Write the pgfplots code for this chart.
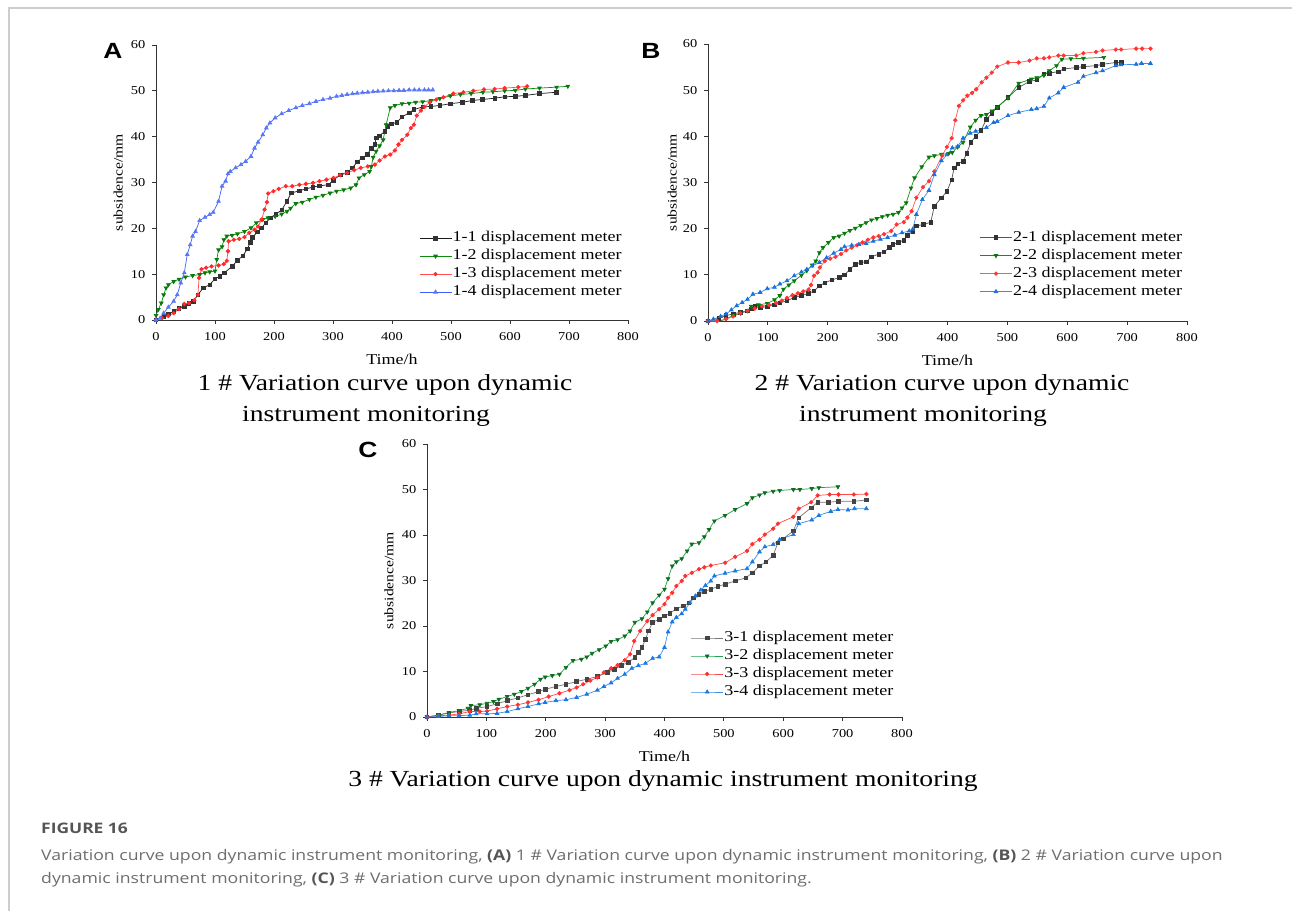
\documentclass[border=0pt]{standalone}
\usepackage{pgfplots}
\pgfplotsset{compat=1.18}
\usepackage{fontspec}
\setmainfont[FakeStretch=1.2]{Liberation Serif}
\newfontfamily\sansb[FakeStretch=1.2]{Liberation Sans}
\newfontfamily\capfont[FakeStretch=1.2]{Open Sans}
\definecolor{axisgray}{HTML}{333333}
\definecolor{Ak}{HTML}{1A1A1A}\definecolor{Akm}{HTML}{333333}
\definecolor{Ag}{HTML}{118A11}\definecolor{Agm}{HTML}{0A7A0A}
\definecolor{Ar}{HTML}{FF5050}\definecolor{Arm}{HTML}{FF2A2A}
\definecolor{Ab}{HTML}{4060FF}\definecolor{Abm}{HTML}{5A78F5}
\definecolor{Bk}{HTML}{555555}\definecolor{Bkm}{HTML}{333333}
\definecolor{Bg}{HTML}{129012}\definecolor{Bgm}{HTML}{0A780A}
\definecolor{Br}{HTML}{FF5A5A}\definecolor{Brm}{HTML}{FF3535}
\definecolor{Bb}{HTML}{3A8EEA}\definecolor{Bbm}{HTML}{1870DA}
\definecolor{Ck}{HTML}{777777}\definecolor{Ckm}{HTML}{444444}
\definecolor{Cg}{HTML}{20A050}\definecolor{Cgm}{HTML}{0E6E1E}
\definecolor{Cr}{HTML}{FF4A4A}\definecolor{Crm}{HTML}{FF3030}
\definecolor{Cb}{HTML}{3A8EEA}\definecolor{Cbm}{HTML}{1A78E0}
\definecolor{capc}{HTML}{6E6E6E}\definecolor{caph}{HTML}{555555}
\pgfplotsset{
 panel/.style={
  scale only axis, xmin=0,xmax=800,ymin=0,ymax=60,
  axis x line*=bottom, axis y line*=left,
  axis line style={draw=axisgray, line width=0.9pt, -},
  xtick={0,100,...,800}, ytick={0,10,...,60},
  tick align=outside, major tick length=4pt,
  tick style={draw=axisgray, line width=0.8pt},
  tick label style={font=\fontsize{12}{14}\selectfont},
  xticklabel style={inner sep=3pt, yshift=-5pt},
  yticklabel style={inner sep=3pt, xshift=-3.5pt},
  /pgf/number format/assume math mode=true,
  xlabel={Time/h}, ylabel={subsidence/mm},
  xlabel style={font=\fontsize{15}{17}\selectfont, at={(axis description cs:0.5,0)}, anchor=center, yshift=-39pt},
  ylabel style={font=\fontsize{13}{15}\selectfont, at={(axis description cs:-0.08,0.5)}, anchor=center},
  legend cell align=left,
  legend style={draw=none, fill=none, font=\fontsize{15}{17}\selectfont,
    anchor=south east, row sep=2.4pt,
    nodes={inner sep=0.8pt, text height=10.5pt, text depth=3.5pt}},
  legend image code/.code={\draw[mark repeat=2,mark phase=2,##1] plot coordinates {(0pt,0pt) (16pt,0pt) (32pt,0pt)};},
 },
 ser/.style n args={3}{draw=#1, line width=0.7pt, mark=#3, mark size=1.8pt, mark options={solid, draw=#2, fill=#2}},
 dser/.style n args={2}{draw=#1, line width=0.7pt, mark=triangle*, mark size=2.1pt, mark options={solid, draw=#2, fill=#2, rotate=180}},
}
\begin{document}
\begin{tikzpicture}
\path[use as bounding box] (0pt,0pt) rectangle (1292pt,-911pt);
\fill[white] (0pt,0pt) rectangle (1292pt,-911pt);
\draw[color={rgb,255:red,205;green,205;blue,205}, line width=1.5pt] (9pt,-911pt) -- (9pt,-8pt) -- (1292pt,-8pt);

% Panel A
\begin{axis}[panel, at={(156pt,-320pt)}, anchor=south west, width=472pt, height=275pt,
  legend style={at={(0.995,0.065)}}]
\addplot[ser={Ak}{Akm}{square*}] coordinates {(0,0)(13,0.8)(21,1.3)(30,1.9)(39,2.5)(48,3)(56,3.6)(63,4.1)(71,5.5)(80,7)(91,7.7)(100,9)(108,9.5)(116,10.3)(129,11.7)(138,13)(147,14)(155,15.5)(160,17)(163,18)(172,19.2)(179,20.1)(186,21.2)(194,22.3)(203,23.1)(213,24)(222,25.9)(229,27.7)(243,28.2)(254,28.6)(266,29)(277,29.3)(292,29.5)(301,30.5)(312,31.7)(324,32.2)(333,33.2)(341,34.5)(350,35.4)(358,36.1)(365,37.5)(371,38.3)(373,39.7)(379,40.2)(388,41.2)(393,42.3)(399,42.8)(408,43.1)(417,44.3)(429,45.2)(437,45.9)(452,46.5)(466,46.6)(481,46.8)(499,47.2)(519,47.5)(536,47.9)(553,48.1)(574,48.4)(591,48.7)(609,48.8)(626,49)(650,49.4)(679,49.7)};
\addlegendentry{1-1 displacement meter}
\addplot[dser={Ag}{Agm}] coordinates {(0,1)(4,2.3)(9,3.7)(13,5.5)(17,7)(21,7.7)(30,8.4)(39,8.9)(50,9.4)(62,9.7)(74,9.9)(83,10.3)(91,10.5)(100,10.7)(103,13.2)(106,15.3)(112,16)(115,17.5)(120,18.3)(129,18.5)(138,18.8)(150,19.3)(161,20.1)(170,21.2)(181,21.9)(190,22.3)(202,22.6)(213,23.1)(222,23.7)(228,24.4)(237,25.4)(248,25.7)(260,26.3)(271,26.8)(283,27.2)(295,27.7)(306,28.1)(318,28.4)(330,28.8)(339,29.5)(344,31)(353,31.7)(362,32.4)(365,33.5)(368,35.5)(373,36.8)(379,38)(385,39.3)(390,42.6)(397,46.3)(405,46.8)(417,47.2)(429,47.3)(440,47.5)(452,47.6)(466,47.9)(481,48.3)(499,48.9)(516,49.2)(534,49.4)(554,49.7)(571,49.8)(591,50)(609,50.1)(626,50.4)(650,50.6)(679,50.8)(698,51)};
\addlegendentry{1-2 displacement meter}
\addplot[ser={Ar}{Arm}{*}] coordinates {(0,0)(10,0.4)(21,0.9)(30,1.5)(39,2.4)(48,3.5)(56,3.7)(65,4.3)(71,5.5)(73,9.2)(77,11.1)(85,11.4)(94,11.7)(106,11.9)(115,12.2)(120,12.9)(122,15)(123,17.2)(132,17.5)(141,17.7)(150,18.1)(158,19)(167,19.7)(173,20.4)(179,21.9)(184,24.1)(188,25.7)(190,27.6)(199,28.1)(208,28.6)(220,29.2)(231,29.2)(243,29.5)(254,29.7)(266,29.9)(277,30.3)(289,30.6)(301,31)(312,31.6)(324,32.1)(336,32.7)(347,33.2)(359,33.5)(371,33.9)(379,34.8)(388,35.7)(397,36.1)(405,37)(411,38.3)(417,39.3)(426,40.4)(432,41.9)(437,42.6)(442,44.6)(449,45.7)(455,46.5)(464,47.5)(475,48.1)(487,48.6)(504,49.4)(521,49.7)(538,50)(556,50.3)(574,50.4)(591,50.6)(614,50.8)(629,51)};
\addlegendentry{1-3 displacement meter}
\addplot[ser={Ab}{Abm}{triangle*}, mark size=2.1pt] coordinates {(0,0)(7,0.4)(13,1.5)(21,2.8)(30,4.1)(36,5.5)(42,8.1)(48,10.3)(53,14.3)(58,16.4)(62,18.3)(67,19.3)(74,21.7)(83,22.4)(91,23)(97,23.5)(106,25.9)(112,29.2)(118,30.3)(122,31.9)(126,32.4)(135,33.2)(144,33.9)(152,34.6)(161,35.7)(167,37.5)(173,38.8)(181,40.4)(187,41.9)(193,43)(202,44.1)(213,45)(225,45.7)(237,46.3)(248,46.8)(260,47.2)(271,47.7)(283,48.1)(295,48.4)(306,48.8)(315,49)(324,49.2)(333,49.35)(341,49.5)(350,49.6)(359,49.7)(368,49.8)(376,49.9)(385,49.95)(394,50)(403,50)(412,50.1)(420,50.1)(429,50.2)(438,50.2)(446,50.2)(455,50.2)(462,50.2)(469,50.2)};
\addlegendentry{1-4 displacement meter}
\end{axis}

% Panel B
\begin{axis}[panel, at={(708pt,-321pt)}, anchor=south west, width=479pt, height=277pt,
  ylabel style={at={(axis description cs:-0.075,0.5)}},
  legend style={at={(0.998,0.07)}}]
\addplot[ser={Bk}{Bkm}{square*}] coordinates {(0,0)(18,0.6)(30,1.2)(42,1.5)(54,1.9)(66,2.2)(72,2.6)(78,3.2)(87,2.9)(99,3.1)(111,3.5)(120,3.9)(132,4.4)(144,5.1)(156,5.5)(168,6)(177,6.5)(186,7.6)(195,8.3)(207,8.9)(219,9.4)(228,10)(237,11.2)(246,12.3)(255,12.7)(264,12.8)(273,13.9)(285,14.5)(294,15)(303,15.9)(309,16.6)(318,17)(327,17.5)(333,18.6)(342,19.4)(348,20.6)(360,20.9)(372,21.4)(378,24.9)(390,26.7)(399,28.1)(407,30.6)(411,33.2)(417,34)(426,34.6)(432,36.3)(439,38.7)(447,40)(456,41.3)(465,43.7)(474,45)(483,46.3)(501,48.4)(519,50.6)(537,51.9)(549,52.2)(561,53.5)(570,53.7)(585,54)(594,54.6)(615,54.9)(627,55.1)(648,55.3)(659,55.6)(681,56)(690,56)};
\addlegendentry{2-1 displacement meter}
\addplot[dser={Bg}{Bgm}] coordinates {(0,0)(18,-0.1)(30,0.4)(42,1.2)(54,1.7)(66,2.2)(72,3.2)(84,3.5)(99,3.8)(111,4.6)(120,5.5)(126,6.9)(135,7.8)(144,8.7)(156,9.9)(165,10.9)(174,12.1)(180,13)(186,14.8)(192,15.9)(201,17)(210,18.1)(219,18.4)(228,19)(237,19.6)(246,20.1)(255,20.7)(264,21.3)(273,21.9)(282,22.2)(291,22.6)(300,22.9)(309,23.1)(318,23.5)(324,24.5)(331,25.6)(339,28.8)(345,31)(357,33.4)(369,35.5)(378,35.8)(390,36.1)(402,36.3)(408,36.5)(417,37.7)(426,38.7)(438,42)(447,43.5)(456,44.5)(465,44.7)(474,45.5)(483,46.3)(501,48.3)(519,51.5)(540,52.4)(549,52.7)(561,53.2)(570,54.2)(582,55.3)(591,56.7)(606,56.8)(627,56.9)(661,57.1)};
\addlegendentry{2-2 displacement meter}
\addplot[ser={Br}{Brm}{*}] coordinates {(0,0)(15,0)(30,0.4)(42,1)(54,1.7)(66,2.2)(78,2.7)(90,3.2)(102,3.5)(114,3.9)(123,4.4)(132,5)(141,5.6)(150,6)(159,6.4)(168,6.8)(172,7.8)(177,9.8)(183,10.5)(187,11.6)(195,13)(204,13.5)(213,13.9)(222,14.5)(231,15.3)(240,15.9)(249,16.4)(258,17)(267,17.6)(276,18.1)(285,18.4)(294,18.8)(306,19.5)(315,20.9)(327,21.4)(333,22.4)(340,23.8)(348,26.7)(359,29)(369,30.3)(378,32.4)(391,35.8)(399,37.7)(407,39.6)(413,43.5)(419,46.6)(426,47.8)(433,48.8)(441,49.4)(448,50.2)(457,51.7)(465,52.7)(474,53.8)(483,55.1)(501,56)(519,56)(537,56.4)(549,56.9)(561,56.9)(570,57.1)(585,57.5)(594,57.5)(615,57.5)(627,58)(648,58.3)(659,58.6)(681,58.8)(690,58.8)(715,59)(725,59)(739,59)};
\addlegendentry{2-3 displacement meter}
\addplot[ser={Bb}{Bbm}{triangle*}, mark size=2.1pt] coordinates {(0,0)(9,0.4)(21,1)(30,1.5)(39,2.4)(48,3.3)(57,4)(66,4.7)(75,5.8)(87,6.2)(99,7)(111,7.3)(120,8)(132,8.7)(144,9.8)(156,10.6)(165,11.2)(174,11.9)(186,12.7)(198,13.7)(210,14.7)(222,15.5)(228,16.1)(240,16.4)(252,16.6)(264,16.8)(276,17.3)(288,17.7)(300,18.1)(312,18.6)(324,19.1)(336,19.5)(342,19.9)(348,23.1)(358,26.3)(369,28.3)(378,31.7)(390,34.7)(399,36)(408,37.5)(417,37.8)(426,39.6)(438,40.7)(447,41.1)(465,41.9)(477,43)(483,43.2)(501,44.5)(519,45.2)(540,45.8)(549,46)(561,46.5)(570,48.3)(585,49.4)(594,50.6)(618,51.7)(627,53)(648,53.8)(659,54.2)(681,55.3)(690,55.5)(715,55.6)(724,55.8)(739,55.8)};
\addlegendentry{2-4 displacement meter}
\end{axis}

% Panel C
\begin{axis}[panel, at={(427pt,-717pt)}, anchor=south west, width=475pt, height=273pt,
  legend style={at={(0.99,0.055)}}]
\addplot[ser={Ck}{Ckm}{square*}] coordinates {(0,0)(19,0.4)(37,0.9)(54,1.2)(72,1.5)(83,1.9)(101,2.3)(118,2.9)(135,3.6)(153,4.2)(170,4.9)(188,5.6)(199,6.1)(217,6.7)(234,7.2)(252,7.8)(269,8.3)(287,8.9)(304,9.8)(316,10.5)(327,11.3)(339,12)(350,13.1)(356,14.2)(362,15.3)(368,17.1)(373,18.9)(380,20.8)(391,21.5)(400,22.2)(409,22.8)(420,23.8)(432,24.4)(441,25.1)(449,26.2)(458,27)(467,27.6)(478,28.1)(490,28.7)(502,29.2)(519,29.9)(537,30.6)(548,31.7)(560,33.2)(571,34.1)(583,35.5)(591,38.3)(600,39.2)(617,40.9)(626,43.8)(647,46)(658,47.2)(676,47.2)(693,47.4)(719,47.4)(740,47.7)};
\addlegendentry{3-1 displacement meter}
\addplot[dser={Cg}{Cgm}] coordinates {(0,0)(19,0.4)(37,1)(54,1.4)(69,1.9)(74,2.5)(89,2.7)(101,3)(112,3.4)(121,3.9)(135,4.5)(147,5)(159,5.6)(170,6.3)(181,7.2)(191,8.3)(199,8.8)(211,9.1)(223,9.4)(234,10.9)(246,12.4)(260,12.7)(269,13.2)(278,14)(290,14.8)(301,15.6)(310,16.6)(321,17)(333,17.8)(342,18.9)(350,20.8)(362,21.6)(371,23.1)(380,25.1)(391,26.8)(400,28.1)(406,30.4)(413,33.2)(420,34.1)(429,34.8)(438,36.5)(446,38)(458,38.3)(467,39.6)(475,41.2)(484,43.1)(502,44.3)(519,45.6)(539,46.9)(548,48.2)(560,48.8)(569,49.3)(583,49.6)(594,49.8)(617,50)(628,50)(648,50.2)(660,50.4)(692,50.6)};
\addlegendentry{3-2 displacement meter}
\addplot[ser={Cr}{Crm}{*}] coordinates {(0,0)(19,0.3)(37,0.4)(54,0.7)(72,1.2)(89,1.2)(101,1.3)(118,1.8)(135,2.3)(153,2.7)(170,3.2)(188,3.8)(205,4.5)(223,5.2)(240,5.9)(252,6.5)(263,7.2)(275,8)(287,8.7)(298,9.8)(310,10.7)(321,11.4)(333,12.5)(342,13.8)(349,16.7)(359,18.9)(371,21.1)(380,22.4)(391,23.7)(400,24.8)(406,26.2)(413,27.3)(420,28.8)(429,29.9)(435,31)(446,31.7)(458,32.5)(467,32.9)(478,33.3)(502,33.9)(519,35.2)(539,36.5)(548,38)(560,39)(569,40.1)(583,41.4)(591,42.5)(617,44)(626,45.8)(647,47.2)(658,48.7)(678,48.9)(693,48.9)(719,48.9)(740,49)};
\addlegendentry{3-3 displacement meter}
\addplot[ser={Cb}{Cbm}{triangle*}, mark size=2.1pt] coordinates {(0,0)(19,0.1)(37,0.3)(54,0.3)(72,0.4)(83,0.7)(101,0.7)(118,0.8)(135,1.2)(153,1.8)(170,2.3)(188,2.9)(199,3.2)(217,3.6)(234,3.8)(252,4.3)(269,5)(287,5.9)(298,6.7)(310,7.5)(321,8.5)(333,9.4)(345,10.7)(356,11.3)(368,11.8)(380,12.9)(391,13.2)(400,15.3)(406,18.7)(413,20.9)(420,21.9)(429,22.7)(435,23.7)(443,25.1)(452,26.6)(461,27.9)(469,28.9)(478,29.9)(484,31)(502,31.6)(519,32.1)(539,32.6)(548,34.1)(560,36.3)(569,37.4)(583,37.9)(594,39)(617,40.1)(626,42.5)(648,43.3)(660,44.3)(680,45.2)(692,45.6)(709,45.5)(720,45.8)(740,45.8)};
\addlegendentry{3-4 displacement meter}
\end{axis}

% panel letters
\node[font=\sansb\bfseries\fontsize{22}{26}\selectfont] at (113pt,-51pt) {A};
\node[font=\sansb\bfseries\fontsize{22}{26}\selectfont] at (651pt,-51pt) {B};
\node[font=\sansb\bfseries\fontsize{22}{26}\selectfont] at (368pt,-450pt) {C};

% subtitles
\node[font=\fontsize{23}{28}\selectfont] at (385pt,-385pt) {1 \# Variation curve upon dynamic};
\node[font=\fontsize{23}{28}\selectfont] at (366pt,-416pt) {instrument monitoring};
\node[font=\fontsize{23}{28}\selectfont] at (942pt,-385pt) {2 \# Variation curve upon dynamic};
\node[font=\fontsize{23}{28}\selectfont] at (923pt,-416pt) {instrument monitoring};
\node[font=\fontsize{23}{28}\selectfont] at (663pt,-781pt) {3 \# Variation curve upon dynamic instrument monitoring};

% caption
\node[anchor=west, inner sep=0pt, text=caph, font=\capfont\bfseries\fontsize{14.5}{18}\selectfont] at (41pt,-828pt) {FIGURE 16};
\node[anchor=west, inner sep=0pt, text=capc, font=\capfont\fontsize{14.7}{18}\selectfont] at (41pt,-857pt) {Variation curve upon dynamic instrument monitoring, \textcolor{caph}{\bfseries(A)} 1 \# Variation curve upon dynamic instrument monitoring, \textcolor{caph}{\bfseries(B)} 2 \# Variation curve upon};
\node[anchor=west, inner sep=0pt, text=capc, font=\capfont\fontsize{14.7}{18}\selectfont] at (41pt,-880pt) {dynamic instrument monitoring, \textcolor{caph}{\bfseries(C)} 3 \# Variation curve upon dynamic instrument monitoring.};
\end{tikzpicture}
\end{document}
